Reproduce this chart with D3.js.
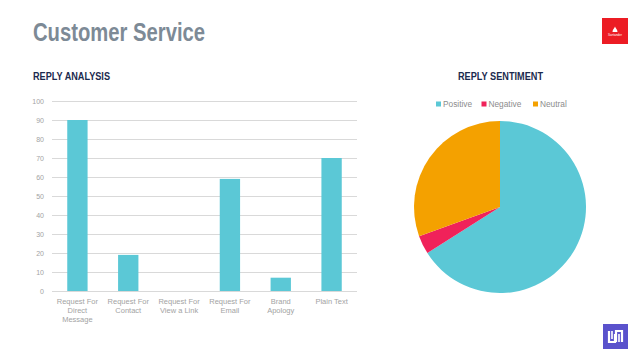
<!DOCTYPE html>
<html>
<head>
<meta charset="utf-8">
<script src="https://cdn.jsdelivr.net/npm/d3@7"></script>
<style>
  body { margin: 0; background: #fff; }
  svg { display: block; font-family: "Liberation Sans", Arial, sans-serif; }
</style>
</head>
<body>
<div id="chart"></div>
<script>
// Bar chart data
const categories = ["Request For\nDirect\nMessage", "Request For\nContact", "Request For\nView a Link",
                    "Request For\nEmail", "Brand\nApology", "Plain Text"];
const replyCounts = [90, 19, 0, 59, 7, 70];
const yTicks = [0, 10, 20, 30, 40, 50, 60, 70, 80, 90, 100];

// Pie chart data
const sentiments = ["Positive", "Negative", "Neutral"];
const sentimentShares = [66, 3.5, 30.5];
const sentimentColors = ["#5bc8d6", "#f0225a", "#f4a100"];

let width = 638, height = 359;

let svg = d3.select("#chart")
    .append("svg")
    .attr("width", width)
    .attr("height", height);

// Title
svg.append("text")
    .attr("x", 33)
    .attr("y", 41)
    .attr("textLength", 172)
    .attr("lengthAdjust", "spacingAndGlyphs")
    .style("font-family", "'Liberation Sans Narrow', 'Liberation Sans', sans-serif")
    .style("font-size", "26px")
    .style("font-weight", "bold")
    .style("fill", "#7d8a96")
    .text("Customer Service");

// Section headings
svg.append("text")
    .attr("x", 33)
    .attr("y", 80)
    .attr("textLength", 77)
    .attr("lengthAdjust", "spacingAndGlyphs")
    .style("font-size", "10px")
    .style("font-weight", "bold")
    .style("fill", "#1b2a4e")
    .text("REPLY ANALYSIS");

svg.append("text")
    .attr("x", 500.5)
    .attr("y", 80)
    .attr("text-anchor", "middle")
    .attr("textLength", 85)
    .attr("lengthAdjust", "spacingAndGlyphs")
    .style("font-size", "10px")
    .style("font-weight", "bold")
    .style("fill", "#1b2a4e")
    .text("REPLY SENTIMENT");

// ---- Bar chart ----
let margin = { top: 101, bottom: 68, left: 52, right: 281 };

let xScale = d3.scaleBand()
    .domain(categories)
    .range([margin.left, width - margin.right])
    .paddingInner(0.6)
    .paddingOuter(0.3);

let yScale = d3.scaleLinear()
    .domain([0, 100])
    .range([height - margin.bottom, margin.top]);

// Gridlines
let yAxis = svg.append("g")
    .attr("transform", `translate(${margin.left},0)`)
    .call(d3.axisLeft(yScale)
        .tickValues(yTicks)
        .tickSize(-(width - margin.right - margin.left))
        .tickPadding(8));

yAxis.select(".domain").remove();
yAxis.selectAll(".tick line").attr("stroke", "#d9d9d9").attr("stroke-width", 1);
yAxis.selectAll(".tick text")
    .style("font-size", "7px")
    .style("fill", "#a3a3a3")
    .style("font-family", "'Liberation Sans', Arial, sans-serif");

// Bars
svg.selectAll(".bar")
    .data(replyCounts)
    .enter()
    .append("rect")
    .attr("class", "bar")
    .attr("x", (d, i) => xScale(categories[i]))
    .attr("y", d => yScale(d))
    .attr("width", xScale.bandwidth())
    .attr("height", d => yScale(0) - yScale(d))
    .attr("fill", "#5bc8d6");

// Category labels
let xLabels = svg.append("g");
categories.forEach(function(c) {
    let t = xLabels.append("text")
        .attr("x", xScale(c) + xScale.bandwidth() / 2)
        .attr("y", yScale(0) + 13)
        .attr("text-anchor", "middle")
        .style("font-size", "7.5px")
        .style("fill", "#a3a3a3");
    c.split("\n").forEach(function(line, j) {
        t.append("tspan")
            .attr("x", xScale(c) + xScale.bandwidth() / 2)
            .attr("dy", j === 0 ? 0 : 9.2)
            .text(line);
    });
});

// ---- Pie chart ----
let pieCenter = { x: 500, y: 207 }, radius = 86;

let pie = d3.pie().sort(null).value(d => d);
let arc = d3.arc().innerRadius(0).outerRadius(radius);

svg.append("g")
    .attr("transform", `translate(${pieCenter.x},${pieCenter.y})`)
    .selectAll("path")
    .data(pie(sentimentShares))
    .enter()
    .append("path")
    .attr("d", arc)
    .attr("fill", (d, i) => sentimentColors[i]);

// Legend
let legendX = [436, 481.5, 533];
let legend = svg.selectAll(".legend")
    .data(sentiments)
    .enter().append("g")
    .attr("class", "legend")
    .attr("transform", (d, i) => `translate(${legendX[i]},104)`);

legend.append("rect")
    .attr("x", 0)
    .attr("y", -2.5)
    .attr("width", 5)
    .attr("height", 5)
    .attr("fill", (d, i) => sentimentColors[i]);

legend.append("text")
    .attr("x", 7)
    .attr("y", 0)
    .attr("dy", "0.35em")
    .style("font-size", "8.3px")
    .style("fill", "#8c8c8c")
    .text(d => d);

// ---- Logos ----
// Santander mark, top right
let santander = svg.append("g").attr("transform", "translate(602,18)");
santander.append("rect")
    .attr("width", 26)
    .attr("height", 26)
    .attr("fill", "#ec1c24");
santander.append("path")
    .attr("d", "M10.5,14 C10.5,11.5 12.5,10.5 13,8.5 C13.5,10.5 15.5,11.5 15.5,14 Z")
    .attr("fill", "#fff");
santander.append("text")
    .attr("x", 13)
    .attr("y", 17.5)
    .attr("text-anchor", "middle")
    .style("font-size", "3px")
    .style("fill", "#fff")
    .text("Santander");

// Purple mark, bottom right
let ulogo = svg.append("g").attr("transform", "translate(603,324)");
ulogo.append("rect")
    .attr("width", 25)
    .attr("height", 25)
    .attr("fill", "#5a52cc");
ulogo.append("path")
    .attr("d", "M6,7 V18 H12 V10 M13,18 V7 H19 V18")
    .attr("fill", "none")
    .attr("stroke", "#fff")
    .attr("stroke-width", 2.2);
ulogo.append("path")
    .attr("d", "M9,7 V15 M16,10 V18")
    .attr("fill", "none")
    .attr("stroke", "#fff")
    .attr("stroke-width", 1.6);
</script>
</body>
</html>
